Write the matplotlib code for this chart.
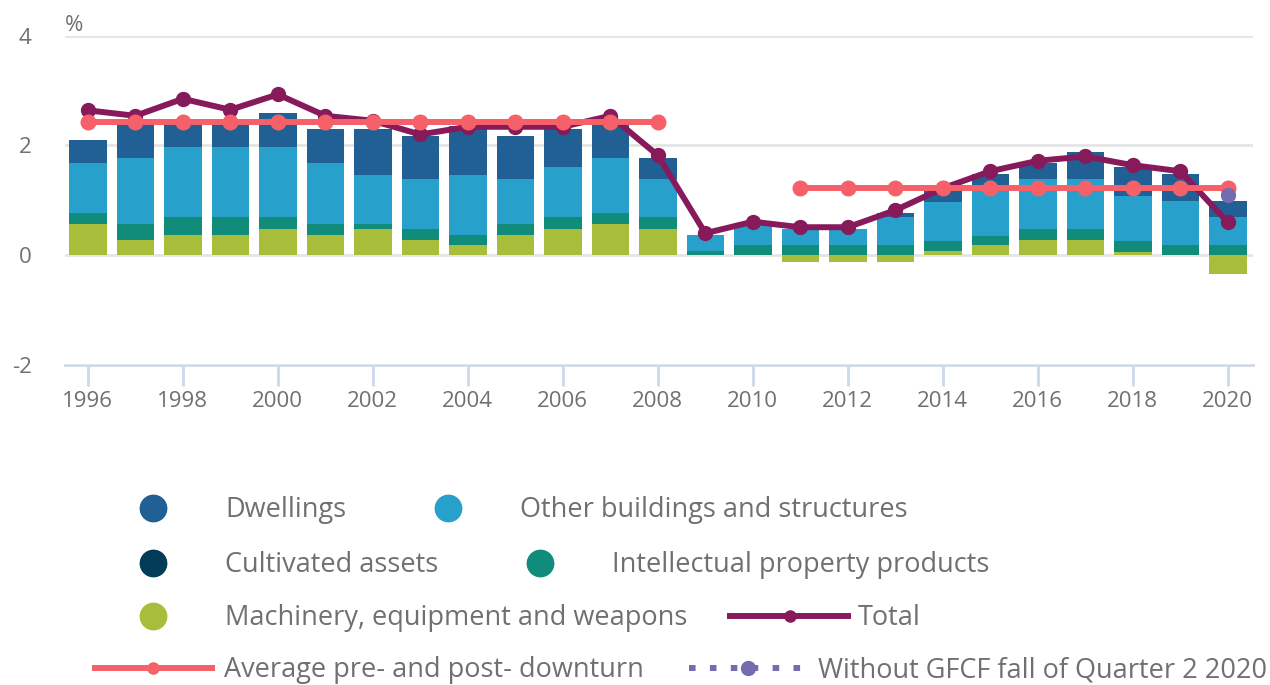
import matplotlib

matplotlib.use("Agg")

import matplotlib.pyplot as plt
import numpy as np

plt.rcParams["font.family"] = ["Open Sans", "DejaVu Sans"]

years = list(range(1996, 2021))

machinery = [0.57, 0.28, 0.36, 0.36, 0.48, 0.36, 0.48, 0.28, 0.19, 0.36, 0.48, 0.57, 0.48,
             0.00, 0.00, -0.13, -0.13, -0.13, 0.07, 0.18, 0.28, 0.28, 0.06, 0.00, -0.35]
intellectual = [0.19, 0.29, 0.33, 0.33, 0.21, 0.21, 0.09, 0.20, 0.17, 0.21, 0.21, 0.19, 0.21,
                0.07, 0.18, 0.18, 0.18, 0.18, 0.19, 0.17, 0.20, 0.20, 0.20, 0.18, 0.18]
cultivated = [0.0] * 25
other_buildings = [0.92, 1.20, 1.29, 1.29, 1.29, 1.11, 0.90, 0.91, 1.11, 0.82, 0.92, 1.01, 0.70,
                   0.29, 0.37, 0.29, 0.29, 0.52, 0.71, 0.90, 0.91, 0.91, 0.81, 0.80, 0.51]
dwellings = [0.42, 0.65, 0.44, 0.44, 0.61, 0.62, 0.83, 0.78, 0.89, 0.78, 0.69, 0.70, 0.38,
             0.00, 0.02, 0.00, 0.00, 0.07, 0.22, 0.23, 0.29, 0.49, 0.53, 0.50, 0.29]
total = [2.64, 2.54, 2.85, 2.65, 2.93, 2.54, 2.45, 2.20, 2.34, 2.34, 2.34, 2.54, 1.82,
         0.40, 0.61, 0.51, 0.51, 0.82, 1.22, 1.53, 1.72, 1.80, 1.64, 1.53, 0.60]

pre_years = list(range(1996, 2009))
pre_average = [2.43] * len(pre_years)
post_years = list(range(2011, 2021))
post_average = [1.22] * len(post_years)
gfcf_years = [2020]
gfcf_value = [1.10]

series = [
    ("Machinery, equipment and weapons", machinery, "#a8bd3a"),
    ("Intellectual property products", intellectual, "#118c7b"),
    ("Cultivated assets", cultivated, "#003c57"),
    ("Other buildings and structures", other_buildings, "#27a0cc"),
    ("Dwellings", dwellings, "#206095"),
]

TEXT = "#707070"
FS = 16
LFS = 19.5

fig = plt.figure(figsize=(12.7, 6.85), dpi=100)
ax = fig.add_axes([0.0512, 0.4672, 0.9354, 0.4807])

x = np.array(years)
pos = np.zeros(len(years))
neg = np.zeros(len(years))
for name, vals, color in series:
    v = np.array(vals)
    bottom = np.where(v >= 0, pos, neg)
    ax.bar(x, v, bottom=bottom, width=0.79, color=color, zorder=2)
    pos = pos + np.where(v >= 0, v, 0)
    neg = neg + np.where(v < 0, v, 0)

ax.plot(years, total, color="#871a5b", lw=4.3, marker="o", ms=10, zorder=3)
ax.plot(pre_years, pre_average, color="#f66068", lw=4.3, marker="o", ms=10.5, zorder=4)
ax.plot(post_years, post_average, color="#f66068", lw=4.3, marker="o", ms=10.5, zorder=4)
ax.plot(gfcf_years, gfcf_value, color="#746cb1", ls="none", marker="o", ms=10, zorder=5)

ax.set_xlim(1995.52, 2020.53)
ax.set_ylim(-2, 4)
ax.set_yticks([-2, 0, 2, 4])
ax.set_yticklabels(["-2", "0", "2", "4"])
ax.set_xticks(list(range(1996, 2021, 2)))
ax.grid(axis="y", color="#e5e5e5", lw=2, zorder=0)
for side in ["top", "right", "left"]:
    ax.spines[side].set_visible(False)
ax.spines["bottom"].set_color("#cdd8ea")
ax.spines["bottom"].set_linewidth(2)
ax.spines["bottom"].set_zorder(1)
ax.tick_params(axis="x", length=15, width=2, color="#cdd8ea", labelsize=FS, labelcolor=TEXT, pad=4)
ax.tick_params(axis="y", length=0, labelsize=FS, labelcolor=TEXT, pad=24)
ax.text(0.0, 1.0, "%", transform=ax.transAxes, fontsize=FS, color=TEXT, va="bottom", ha="left")

# legend drawn in pixel coordinates
lg = fig.add_axes([0, 0, 1, 1])
lg.set_xlim(0, 1270)
lg.set_ylim(685, 0)
lg.axis("off")

colors = {name: color for name, _, color in series}
circles = [
    (153, 508, "Dwellings", 225),
    (448, 508, "Other buildings and structures", 520),
    (153, 563, "Cultivated assets", 225),
    (540, 563, "Intellectual property products", 612),
    (153, 616, "Machinery, equipment and weapons", 225),
]
for cx, cy, name, tx in circles:
    lg.plot([cx], [cy], marker="o", ms=19, color=colors[name], ls="none")
    lg.text(tx, cy + 2, name, fontsize=LFS, color=TEXT, va="center", ha="left")

lg.plot([730, 848], [616, 616], color="#871a5b", lw=4.3)
lg.plot([790], [616], marker="o", ms=8, color="#871a5b")
lg.text(858, 618, "Total", fontsize=LFS, color=TEXT, va="center", ha="left")

lg.plot([95, 212], [668, 668], color="#f66068", lw=4.3)
lg.plot([153], [668], marker="o", ms=8, color="#f66068")
lg.text(224, 670, "Average pre- and post- downturn", fontsize=LFS, color=TEXT, va="center", ha="left")

lg.plot([689, 804], [668, 668], color="#746cb1", lw=4.3, ls=(0, (1.1, 2.4)))
lg.plot([748], [668], marker="o", ms=10, color="#746cb1")
lg.text(818, 670, "Without GFCF fall of Quarter 2 2020", fontsize=LFS, color=TEXT, va="center", ha="left")

fig.savefig("out.png", dpi=100)
plt.close(fig)
